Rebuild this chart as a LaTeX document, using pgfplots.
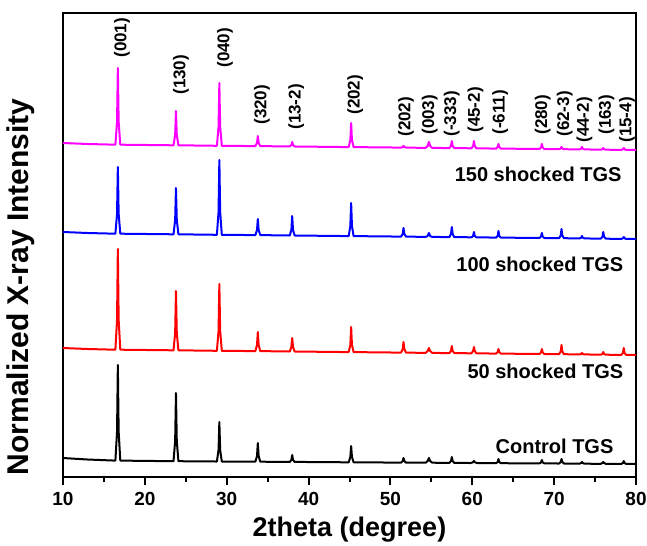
\documentclass[border=0pt]{standalone}
\usepackage{pgfplots}
\pgfplotsset{compat=1.18}
\usepackage{fontspec}
\setmainfont{Liberation Sans}

\definecolor{tgsmag}{RGB}{255,0,255}
\definecolor{tgsblue}{RGB}{0,0,255}
\definecolor{tgsred}{RGB}{255,0,0}

% y values are offset traces (stacked), in arbitrary units
\begin{document}
\begin{tikzpicture}
\begin{axis}[
  scale only axis,
  width=286.5pt, height=232pt,
  xmin=10, xmax=80, ymin=0, ymax=464,
  xtick={10,20,...,80},
  minor x tick num=1,
  ytick=\empty,
  xtick pos=bottom,
  tick align=outside,
  major tick length=4pt,
  minor tick length=2.5pt,
  axis line style={line width=1.2pt},
  every tick/.style={line width=1pt, black},
  tick label style={font=\bfseries\fontsize{9.5}{11}\selectfont},
  xticklabel style={inner xsep=0pt},
  /pgf/number format/assume math mode=true,
  xlabel={\bfseries 2theta (degree)},
  ylabel={\bfseries Normalized X-ray Intensity},
  xlabel style={font=\fontsize{13.5}{15}\selectfont, inner sep=0pt, at={(axis description cs:0.5,-0.114)}, anchor=center},
  ylabel style={font=\fontsize{15}{17}\selectfont, inner sep=0pt, at={(axis description cs:-0.074,0.41)}, anchor=center},
  clip=false,
  every axis plot/.append style={line width=1pt, line join=round},
]
% Control TGS
\addplot[black] coordinates {
(10,19)(13,17.5)
(16.4,16.4)(16.6,45)(16.7,112)(16.8,45)(17.0,16.4)
(23.5,15.8)(23.7,36)(23.8,84)(23.9,36)(24.1,15.8)
(28.8,15.5)(29.0,27)(29.1,55)(29.2,27)(29.4,15.5)
(33.5,15.3)(33.7,21)(33.8,34)(33.9,21)(34.1,15.3)
(37.7,15.1)(37.9,17)(38.0,22)(38.1,17)(38.3,15.1)
(44.9,14.7)(45.1,20)(45.2,31)(45.3,20)(45.5,14.7)
(51.3,14.4)(51.5,16)(51.6,19)(51.7,16)(51.9,14.4)
(54.3,14.3)(54.55,16)(54.7,19)(54.85,16)(55.1,14.3)
(57.2,14.1)(57.4,16)(57.5,20)(57.6,16)(57.8,14.1)
(59.8,14.0)(60.05,14.6)(60.2,16)(60.35,14.6)(60.6,14.0)
(62.9,13.8)(63.1,15)(63.2,18)(63.3,15)(63.5,13.8)
(68.2,13.6)(68.4,14.6)(68.5,17)(68.6,14.6)(68.8,13.6)
(70.6,13.5)(70.8,15)(70.9,18)(71.0,15)(71.2,13.5)
(73.1,13.3)(73.3,14)(73.4,15)(73.5,14)(73.7,13.3)
(75.7,13.2)(75.9,14)(76.0,15)(76.1,14)(76.3,13.2)
(78.2,13.1)(78.4,14)(78.5,16)(78.6,14)(78.8,13.1)
(80,13)
};
% 50 shocked TGS
\addplot[tgsred] coordinates {
(10,129)(13,128)
(16.4,127.3)(16.6,157)(16.7,228)(16.8,157)(17.0,127.3)
(23.5,126.7)(23.7,144)(23.8,186)(23.9,144)(24.1,126.7)
(28.8,126.2)(29.0,146)(29.1,193)(29.2,146)(29.4,126.2)
(33.5,125.9)(33.7,132)(33.8,145)(33.9,132)(34.1,125.9)
(37.7,125.5)(37.9,130)(38.0,139)(38.1,130)(38.3,125.5)
(44.9,124.9)(45.1,132)(45.2,150)(45.3,132)(45.5,124.9)
(51.3,124.4)(51.5,128)(51.6,135)(51.7,128)(51.9,124.4)
(54.3,124.1)(54.55,126)(54.7,129)(54.85,126)(55.1,124.1)
(57.2,123.9)(57.4,126)(57.5,131)(57.6,126)(57.8,123.9)
(59.9,123.7)(60.1,126)(60.2,130)(60.3,126)(60.5,123.7)
(62.9,123.4)(63.1,125)(63.2,128)(63.3,125)(63.5,123.4)
(68.2,123.0)(68.4,124.5)(68.5,128)(68.6,124.5)(68.8,123.0)
(70.6,122.8)(70.8,125.5)(70.9,132)(71.0,125.5)(71.2,122.8)
(73.1,122.6)(73.3,123)(73.4,124)(73.5,123)(73.7,122.6)
(75.7,122.3)(75.9,123)(76.0,125)(76.1,123)(76.3,122.3)
(78.2,122.1)(78.4,124)(78.5,129)(78.6,124)(78.8,122.1)
(80,122)
};
% 100 shocked TGS
\addplot[tgsblue] coordinates {
(10,245)(13,244)
(16.4,243.3)(16.6,263)(16.7,310)(16.8,263)(17.0,243.3)
(23.5,242.7)(23.7,257)(23.8,289)(23.9,257)(24.1,242.7)
(28.8,242.2)(29.0,265)(29.1,317)(29.2,265)(29.4,242.2)
(33.5,241.9)(33.7,247)(33.8,258)(33.9,247)(34.1,241.9)
(37.7,241.5)(37.9,247)(38.0,261)(38.1,247)(38.3,241.5)
(44.9,240.9)(45.1,251)(45.2,274)(45.3,251)(45.5,240.9)
(51.3,240.4)(51.5,243)(51.6,249)(51.7,243)(51.9,240.4)
(54.3,240.1)(54.55,241)(54.7,244)(54.85,241)(55.1,240.1)
(57.2,239.9)(57.4,243)(57.5,250)(57.6,243)(57.8,239.9)
(59.9,239.7)(60.1,241)(60.2,245)(60.3,241)(60.5,239.7)
(62.9,239.4)(63.1,241)(63.2,246)(63.3,241)(63.5,239.4)
(68.2,239.0)(68.4,240.5)(68.5,244)(68.6,240.5)(68.8,239.0)
(70.6,238.8)(70.8,241.5)(70.9,248)(71.0,241.5)(71.2,238.8)
(73.1,238.6)(73.3,239.3)(73.4,241)(73.5,239.3)(73.7,238.6)
(75.7,238.3)(75.9,240.3)(76.0,245)(76.1,240.3)(76.3,238.3)
(78.2,238.1)(78.4,238.7)(78.5,240)(78.6,238.7)(78.8,238.1)
(80,238)
};
% 150 shocked TGS
\addplot[tgsmag] coordinates {
(10,334)(13,333)
(16.4,332.3)(16.6,355)(16.7,409)(16.8,355)(17.0,332.3)
(23.5,331.7)(23.7,342)(23.8,366)(23.9,342)(24.1,331.7)
(28.8,331.2)(29.0,350)(29.1,394)(29.2,350)(29.4,331.2)
(33.5,330.9)(33.7,334)(33.8,341)(33.9,334)(34.1,330.9)
(37.7,330.5)(37.9,332)(38.0,335)(38.1,332)(38.3,330.5)
(44.9,329.9)(45.1,337)(45.2,354)(45.3,337)(45.5,329.9)
(51.3,329.4)(51.5,330)(51.6,331)(51.7,330)(51.9,329.4)
(54.3,329.1)(54.55,331)(54.7,335)(54.85,331)(55.1,329.1)
(57.2,328.9)(57.4,331)(57.5,336)(57.6,331)(57.8,328.9)
(59.9,328.7)(60.1,331)(60.2,336)(60.3,331)(60.5,328.7)
(62.9,328.4)(63.1,330)(63.2,333)(63.3,330)(63.5,328.4)
(68.2,328.0)(68.4,329.5)(68.5,333)(68.6,329.5)(68.8,328.0)
(70.6,327.8)(70.8,328.5)(70.9,330)(71.0,328.5)(71.2,327.8)
(73.1,327.6)(73.3,328.3)(73.4,330)(73.5,328.3)(73.7,327.6)
(75.7,327.3)(75.9,327.8)(76.0,329)(76.1,327.8)(76.3,327.3)
(78.2,327.1)(78.4,327.7)(78.5,329)(78.6,327.7)(78.8,327.1)
(80,327)
};

% sample names
\begin{scope}[font=\bfseries\fontsize{10}{12}\selectfont]
\node[anchor=east] at (axis cs:79.1,303) {150 shocked TGS};
\node[anchor=east] at (axis cs:79.3,213) {100 shocked TGS};
\node[anchor=east] at (axis cs:79.3,106) {50 shocked TGS};
\node[anchor=east] at (axis cs:78.1,31) {Control TGS};
\end{scope}

% Miller indices
\begin{scope}[font=\bfseries\fontsize{8.5}{10}\selectfont]
\node[rotate=90, anchor=west, inner sep=0pt] at (axis cs:17.2,419) {(001)};
\node[rotate=90, anchor=west, inner sep=0pt] at (axis cs:24.4,382) {(130)};
\node[rotate=90, anchor=west, inner sep=0pt] at (axis cs:29.8,409) {(040)};
\node[rotate=90, anchor=west, inner sep=0pt] at (axis cs:34.3,352) {(320)};
\node[rotate=90, anchor=west, inner sep=0pt] at (axis cs:38.5,347) {(13-2)};
\node[rotate=90, anchor=west, inner sep=0pt] at (axis cs:45.7,362) {(202)};
\node[rotate=90, anchor=west, inner sep=0pt] at (axis cs:51.9,340) {(202)};
\node[rotate=90, anchor=west, inner sep=0pt] at (axis cs:54.8,342) {(003)};
\node[rotate=90, anchor=west, inner sep=0pt] at (axis cs:57.5,340) {(-333)};
\node[rotate=90, anchor=west, inner sep=0pt] at (axis cs:60.4,344) {(45-2)};
\node[rotate=90, anchor=west, inner sep=0pt] at (axis cs:63.4,342) {(-611)};
\node[rotate=90, anchor=west, inner sep=0pt] at (axis cs:68.6,342) {(280)};
\node[rotate=90, anchor=west, inner sep=0pt] at (axis cs:71.3,340) {(62-3)};
\node[rotate=90, anchor=west, inner sep=0pt] at (axis cs:73.7,334) {(44-2)};
\node[rotate=90, anchor=west, inner sep=0pt] at (axis cs:76.4,342) {(163)};
\node[rotate=90, anchor=west, inner sep=0pt] at (axis cs:78.9,334) {(15-4)};
\end{scope}
\end{axis}
\path ([xshift=-31.5pt,yshift=-34pt]current axis.south west);
\path ([xshift=5.5pt,yshift=6.5pt]current axis.north east);
\end{tikzpicture}
\end{document}
